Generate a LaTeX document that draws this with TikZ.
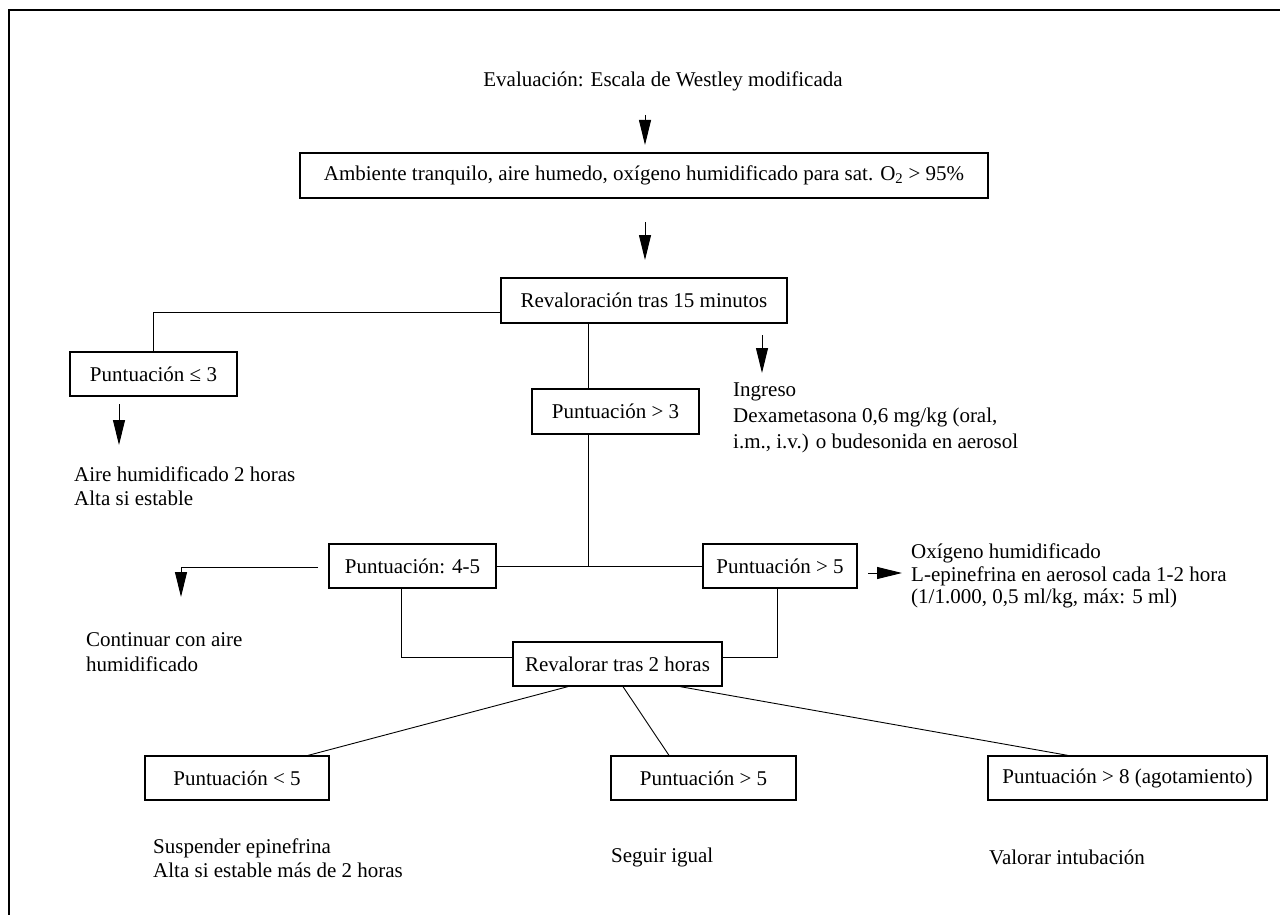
\documentclass[tikz,border=0pt]{standalone}
\usepackage{fontspec}
\setmainfont{Liberation Serif}
\usetikzlibrary{arrows.meta,calc}
\begin{document}
\begin{tikzpicture}[x=1pt,y=-1pt,
  every node/.style={font=\fontsize{21}{24}\selectfont},
  box/.style={draw, line width=1.2pt, minimum height=44pt, inner sep=0pt},
  ln/.style={line width=0.9pt},
  arr/.style={line width=0.9pt, -{Triangle[length=25pt,width=12pt]}},
  txt/.style={anchor=west, align=left, inner sep=0pt}]
\useasboundingbox (0,0) rectangle (1280,915);
\fill[white] (0,0) rectangle (1280,915);
\draw[line width=1.4pt] (9,915) -- (9,10) -- (1280,10);

% top
\node (t0) at (663,81) {Evaluación: Escala de Westley modificada};
\coordinate (a1s) at (645,115); \coordinate (a1e) at (645,145);
\draw[arr] (a1s) -- (a1e);
\node[box, minimum width=688pt, minimum height=45pt] (b1) at (644,175.5) {Ambiente tranquilo, aire humedo, oxígeno humidificado para sat. O\textsubscript{2} > 95\%};
\coordinate (a2s) at (645,222); \coordinate (a2e) at (645,260);
\draw[arr] (a2s) -- (a2e);
\node[box, minimum width=286pt, minimum height=45pt] (b2) at (644,300.5) {Revaloración tras 15 minutos};

% left branch
\node[box, minimum width=167pt] (b3) at (153.5,374) {Puntuación ≤ 3};
\draw[ln] ([yshift=-11.5pt]b2.west) -| (b3.north);
\coordinate (a3s) at (119,404); \coordinate (a3e) at (119,445);
\draw[arr] (a3s) -- (a3e);
\node[txt, font=\fontsize{21}{24}\selectfont] (t3) at (74,486) {Aire humidificado 2 horas\\Alta si estable};

% middle
\coordinate (j1) at (588,566);
\node[box, minimum width=167pt, minimum height=45pt] (b4) at (615.5,411.5) {Puntuación > 3};
\draw[ln] (j1 |- b2.south) -- (j1 |- b4.north);
\draw[ln] (j1 |- b4.south) -- (j1);
\coordinate (a4s) at (762,335); \coordinate (a4e) at (762,373);
\draw[arr] (a4s) -- (a4e);
\node[txt, font=\fontsize{21}{26}\selectfont] (t4) at (733,418) {Ingreso\\Dexametasona 0,6 mg/kg (oral,\\i.m., i.v.) o budesonida en aerosol};

% second level
\node[box, minimum width=167pt] (b5) at (412.5,566) {Puntuación: 4-5};
\node[box, minimum width=154pt] (b6) at (780,566) {Puntuación > 5};
\draw[ln] (b5.east) -- (b6.west);
\coordinate (c5) at (318,567); \coordinate (e5) at (181,597);
\draw[arr] (c5) -| (e5);
\node[txt, font=\fontsize{21}{25}\selectfont] (t5) at (86,652.5) {Continuar con aire\\humidificado};
\coordinate (a6s) at (868,573); \coordinate (a6e) at (902,573);
\draw[arr] (a6s) -- (a6e);
\node[txt, font=\fontsize{21}{22.5}\selectfont] (t6) at (911,576) {Oxígeno humidificado\\L-epinefrina en aerosol cada 1-2 hora\\(1/1.000, 0,5 ml/kg, máx: 5 ml)};

% revalorar
\node[box, minimum width=209pt] (b7) at (617.5,664) {Revalorar tras 2 horas};
\coordinate (k1) at (401,657); \coordinate (k2) at (777,657);
\draw[ln] (k1 |- b5.south) -- (k1) -- (k1 -| b7.west);
\draw[ln] (k2 |- b6.south) -- (k2) -- (k2 -| b7.east);

% bottom
\node[box, minimum width=184pt] (b8) at (237,778) {Puntuación < 5};
\node[box, minimum width=185pt] (b9) at (703.5,778) {Puntuación > 5};
\node[box, minimum width=279pt] (b10) at (1127.5,778) {Puntuación > 8 (agotamiento)};
\draw[ln] ([xshift=-49.5pt]b7.south) -- ([xshift=71pt]b8.north);
\draw[ln] ([xshift=5.5pt]b7.south) -- ([xshift=-34.5pt]b9.north);
\draw[ln] ([xshift=62.5pt]b7.south) -- ([xshift=-59.5pt]b10.north);
\node[txt, font=\fontsize{21}{24}\selectfont] (t8) at (153,858) {Suspender epinefrina\\Alta si estable más de 2 horas};
\node[txt] (t9) at (611,857) {Seguir igual};
\node[txt] (t10) at (989,857) {Valorar intubación};
\end{tikzpicture}
\end{document}
